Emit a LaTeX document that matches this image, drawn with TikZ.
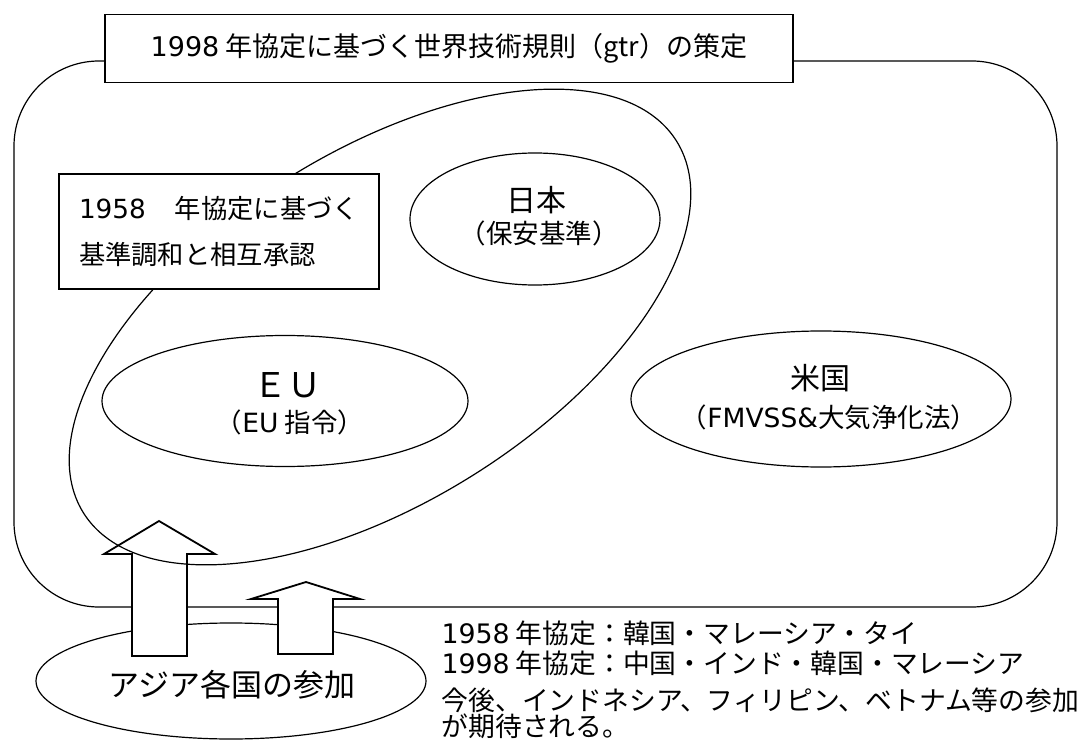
\documentclass[tikz,border=0pt]{standalone}
\usepackage{fontspec}
\setmainfont{Noto Sans CJK JP}
\newfontfamily\latinfont{DejaVu Sans}
\usetikzlibrary{shapes.geometric}
\begin{document}
\begin{tikzpicture}[x=1pt,y=-1pt,line width=1.2pt,
  boxw/.style={draw,fill=white,inner sep=0pt},
  ell/.style={draw,ellipse,inner sep=0pt},
  blockarrow/.style={draw,fill=white,line width=1.8pt,line join=miter},
  txt/.style={inner sep=0pt},
  fbig/.style={font=\fontsize{27pt}{32pt}\selectfont},
  fnote/.style={font=\fontsize{26.8pt}{32pt}\selectfont},
  fname/.style={font=\fontsize{30pt}{34pt}\selectfont},
  fsub/.style={font=\fontsize{26.5pt}{30pt}\selectfont}]
\useasboundingbox (0,0) rectangle (1080,749);
% outer frame (1998 agreement)
\node[draw,rounded corners=85pt,minimum width=1043pt,minimum height=546pt,inner sep=0pt] (outer) at (535.5,334) {};
\node[boxw,minimum width=688pt,minimum height=68pt,fbig] (title) at (449,48.5) {{\latinfont 1998} 年協定に基づく世界技術規則（gtr）の策定};
% Asia
\node[ell,minimum width=390pt,minimum height=116pt] (asia) at (231,681) {};
\node[txt,font=\fontsize{31pt}{34pt}\selectfont] (asiatxt) at (232,685) {アジア各国の参加};
% arrows
\draw[blockarrow] (132,656) -- (132,554) -- (104,554) -- (159,521) -- (215,554) -- (187,554) -- (187,656) -- cycle;
\draw[blockarrow] (278,654) -- (278,599) -- (251,599) -- (306,582) -- (360,599) -- (333,599) -- (333,654) -- cycle;
% 1958 agreement ellipse
\node[ell,minimum width=700pt,minimum height=350pt,rotate=32.1] (e58) at (380,327) {};
\node[boxw,minimum width=320pt,minimum height=115pt,align=left,font=\fontsize{26.3pt}{46pt}\selectfont] (box58) at (219,231.5) {{\latinfont 1958}\hspace{1.1em}年協定に基づく\\基準調和と相互承認};
% Japan
\node[ell,minimum width=250pt,minimum height=132pt] (jp) at (535,219) {};
\node[txt,fname] (jpname) at (536,200) {日本};
\node[txt,fsub] (jpsub) at (539,233) {（保安基準）};
% EU
\node[ell,minimum width=366pt,minimum height=131pt] (eu) at (285,401) {};
\node[txt,font=\fontsize{34pt}{38pt}\selectfont] (euname) at (287,385) {ＥＵ};
\node[txt,fsub] (eusub) at (290,422) {（{\latinfont EU} 指令）};
% US
\node[ell,minimum width=380pt,minimum height=136pt] (us) at (821,399) {};
\node[txt,fname] (usname) at (820,378) {米国};
\node[txt,fsub] (ussub) at (829,417) {（{\latinfont FMVSS\&}大気浄化法）};
% notes
\node[txt,fnote,anchor=west] (n1) at (441,633) {{\latinfont 1958} 年協定：韓国・マレーシア・タイ};
\node[txt,fnote,anchor=west] (n2) at (441,663) {{\latinfont 1998} 年協定：中国・インド・韓国・マレーシア};
\node[txt,fnote,anchor=west] (n3) at (441,700) {今後、インドネシア、フィリピン、ベトナム等の参加};
\node[txt,fnote,anchor=west] (n4) at (441,726) {が期待される。};
\end{tikzpicture}
\end{document}
